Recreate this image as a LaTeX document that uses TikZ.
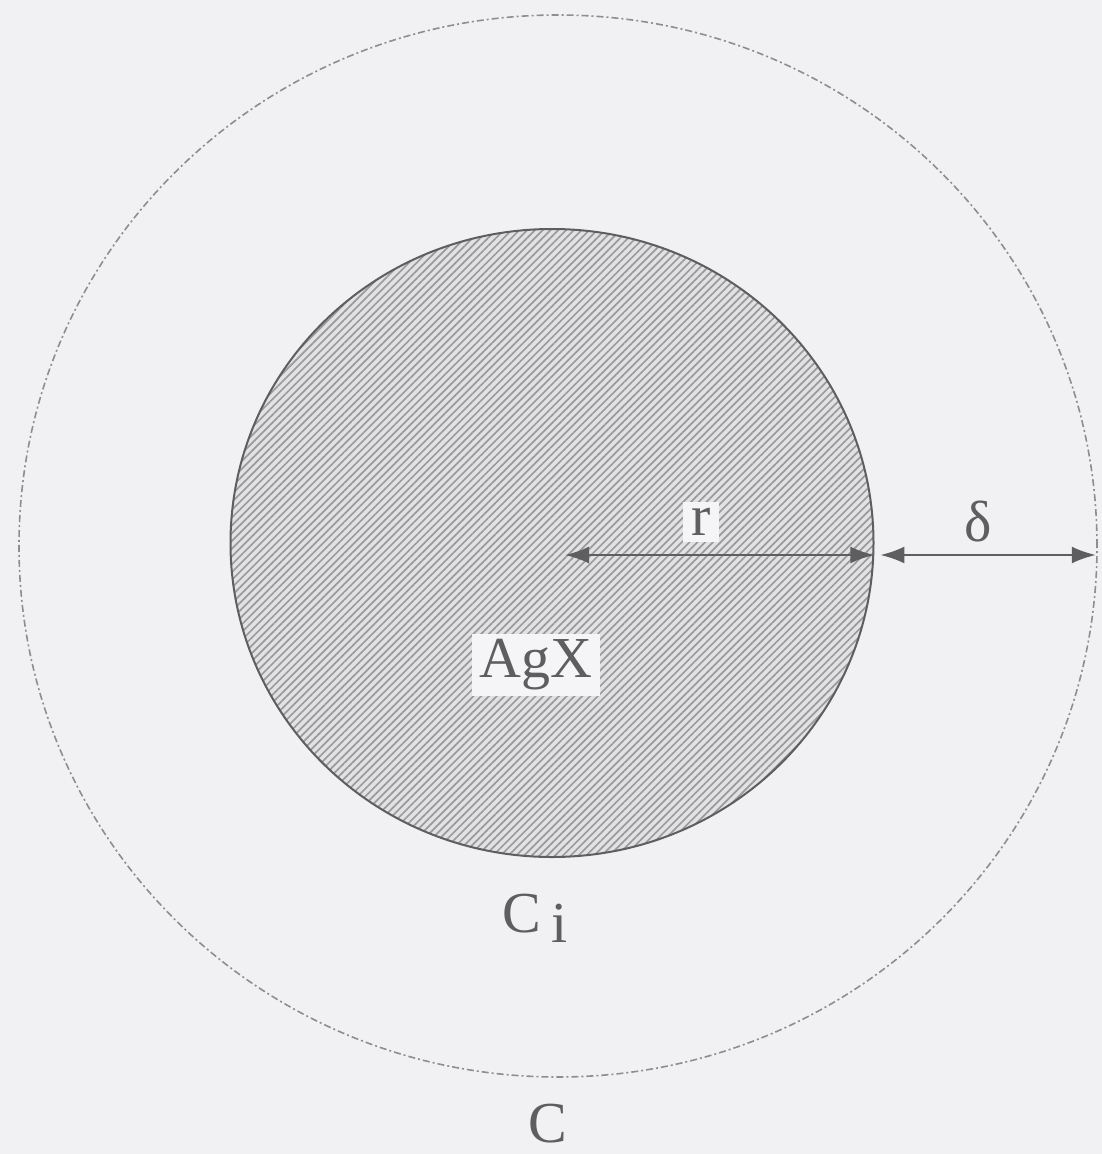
\documentclass[tikz,border=0pt]{standalone}
\usepackage{fontspec}
\setmainfont{Liberation Serif}
\usetikzlibrary{shapes.geometric,patterns.meta,arrows.meta}
\definecolor{bg}{HTML}{F1F1F3}
\definecolor{ink}{HTML}{5E5E60}
\definecolor{hatchbg}{HTML}{E2E2E4}
\definecolor{hatch}{HTML}{9A9A9C}
\tikzset{
  lbl/.style={text=ink,font=\fontsize{58}{64}\selectfont,inner sep=0pt},
  lblbox/.style={lbl,fill=bg!70!white,inner xsep=8pt,inner ysep=6pt},
  dimarrow/.style={draw=ink,line width=2.2pt,{Latex[length=24pt,width=17pt]}-{Latex[length=24pt,width=17pt]}},
}
\begin{document}
\begin{tikzpicture}[x=1pt,y=-1pt]
\fill[bg] (0,0) rectangle (1102,1154);
\useasboundingbox (0,0) rectangle (1102,1154);
% outer boundary C
\node[ellipse,draw=ink!70,line width=1.6pt,dash pattern=on 7pt off 3pt on 2pt off 3pt,
      minimum width=1078pt,minimum height=1062pt,inner sep=0pt] (outer) at (558,546) {};
% AgX grain
\node[ellipse,draw=ink,line width=2pt,preaction={fill=hatchbg},
      pattern={Lines[angle=45,distance=5.5pt,line width=1.7pt]},pattern color=hatch,
      minimum width=643pt,minimum height=628pt,inner sep=0pt] (agx) at (552,543) {};
\coordinate (o) at (565,555);
\coordinate (ri) at (o -| agx.east);
\coordinate (ro) at (o -| outer.east);
\draw[dimarrow] (o) -- (ri);
\draw[dimarrow] ([xshift=6pt]ri) -- ([xshift=-2pt]ro);
\node[lblbox] (r) at (701,522) {r};
\node[lbl] (delta) at (978,522) {δ};
\node[lblbox] (agxl) at (536,665) {AgX};
\node[lbl] (ci) at (535,918) {C\raisebox{-10pt}{\,i}};
\node[lbl] (c) at (548,1124) {C};
\end{tikzpicture}
\end{document}
